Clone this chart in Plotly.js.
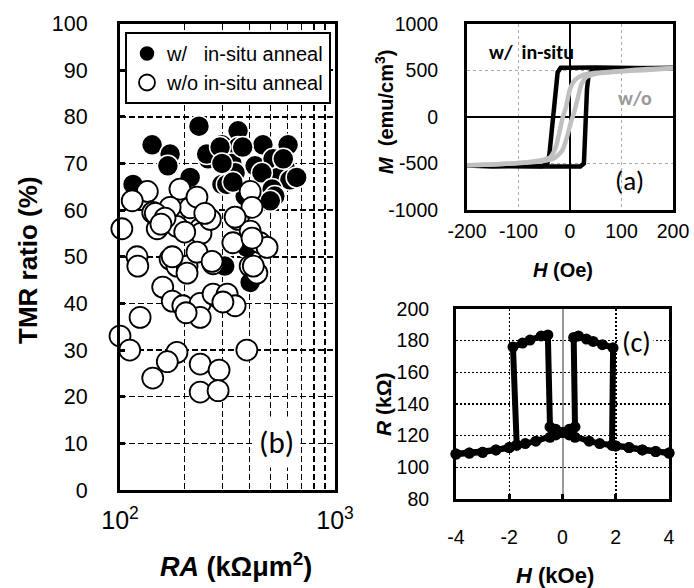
<!DOCTYPE html>
<html><head><meta charset="utf-8">
<script src="https://cdn.plot.ly/plotly-3.0.1.min.js"></script>
<style>html,body{margin:0;padding:0;background:#fff}#chart{width:694px;height:588px}</style>
</head><body><div id="chart"></div>
<script>
// ---- panel (b): TMR ratio vs RA ----
const raWith  = [115,141,233,171,167,212,298,257,298,354,354,462,605,331,425,515,587,343,543,617,457,510,525,314,382,372,253,335,500,307,403,389,283,575,663,292,298];
const tmrWith = [65.5,74,78,72,69.5,67,74,71,65.5,77,73.5,74,74,70,69.5,71,69,68,67,66.5,68,64.5,63,65.5,63,73.5,72,66,62,48,44.5,52,41,71,67,73.5,70];
const raWithout  = [102,120,121,149,166,142,184,212,236,238,263,354,403,335,448,483,403,433,171,184,205,228,205,271,158,175,196,236,236,271,315,343,124,100,111,184,166,142,236,289,389,236,286,134,114,190,228,171,146,162,248,403,411,343,175,268,301,203,417,411,200,155];
const tmrWithout = [56,50,48,56,58,59.5,56.5,60.5,56,55,58,58,55.5,53,53,52,48,46.5,49.5,48,48,51,46.5,48.5,43.5,40.5,39.5,40,37,42,42,39.5,37,33,30,29.5,27.5,24,27,25.7,30,21,21.3,64,62,64.5,62.8,60.6,59.3,58.3,59.3,64,60.6,58.5,50,49,40.3,38,48,54,55.3,57];
const raTickVals = [100,1000];
const raTickText = ['10<sup>2</sup>','10<sup>3</sup>'];
const raMinorVals = [200,300,400,500,600,700,800,900];
const legendNames = ['w/\u00a0\u00a0\u00a0in-situ anneal','w/o in-situ anneal'];

// ---- panel (a): M-H loops (Oe, emu/cm3) ----
const hBlackDown = [200,150,100,50,0,-18,-24,-32,-40,-44,-55,-100,-150,-200];
const mBlackDown = [522,528,526,532,530,530,480,0,-400,-500,-530,-528,-532,-522];
const hBlackUp   = [-200,-150,-100,-50,0,20,27,30,33,36,45,100,150,200];
const mBlackUp   = [-522,-530,-526,-532,-530,-532,-500,0,300,450,510,522,528,530];
const hGrayDown  = [200,150,100,50,25,10,0,-8,-14,-20,-28,-38,-55,-100,-150,-200];
const mGrayDown  = [525,515,495,475,450,400,300,100,0,-150,-330,-430,-465,-495,-510,-520];
const hGrayUp    = [-200,-150,-100,-55,-30,-15,-5,2,8,15,22,32,50,100,150,200];
const mGrayUp    = [-520,-510,-495,-475,-440,-360,-200,-50,50,200,350,430,465,490,505,525];
const hTickVals = [-200,-100,0,100,200];
const hTickText = ['-200','-100','0','100','200'];
const mTickVals = [-1000,-500,0,500,1000];
const mTickText = ['-1000','-500','0','500','1000'];

// ---- panel (c): R-H loop (kOe, kOhm) ----
const hUp   = [-4,-3.5,-3,-2.5,-2,-1.72,-1.4,-1,-0.47,-0.25,0,0.25,0.47,0.42,0.6,0.9,1.15,1.5,1.9,1.86,2,2.5,3,3.5,4];
const rUp   = [108.4,109,109.5,111,112.5,114,115,116.5,119,120.5,122,124,125.5,182,183,181,179.5,177.5,175.5,114,113.5,112.5,111,110,109];
const hDown = [4,3.5,3,2.5,2,1.86,1.4,1,0.47,0.25,0,-0.25,-0.47,-0.55,-0.8,-1.22,-1.5,-1.86,-1.72,-2,-2.5,-3,-3.5,-4];
const rDown = [109,110,111,112.5,113.5,114,115,116.5,119,120.5,122,124,125.5,183.6,183,180.4,178.5,176,114,112.5,111,109.5,109,108.4];
const kTickVals = [-4,-2,0,2,4];
const kTickText = ['-4','-2','0','2','4'];

const F = 'Liberation Sans, Arial, sans-serif';
const C = 'Carlito, Lato, sans-serif';
const W = 694, H = 588;
const px = v => v / W, py = v => 1 - v / H;

const traces = [
  {x: raWith, y: tmrWith, type:'scatter', mode:'markers', name: legendNames[0], xaxis:'x', yaxis:'y', cliponaxis:false,
   marker:{size:21, color:'black', line:{color:'white', width:1.5}}},
  {x: raWithout, y: tmrWithout, type:'scatter', mode:'markers', name: legendNames[1], xaxis:'x', yaxis:'y', cliponaxis:false,
   marker:{size:21, color:'white', line:{color:'black', width:1.8}}},
  {x: hBlackDown, y: mBlackDown, type:'scatter', mode:'lines', xaxis:'x2', yaxis:'y2', showlegend:false, line:{color:'black', width:4.5}},
  {x: hBlackUp, y: mBlackUp, type:'scatter', mode:'lines', xaxis:'x2', yaxis:'y2', showlegend:false, line:{color:'black', width:4.5}},
  {x: hGrayDown, y: mGrayDown, type:'scatter', mode:'lines', xaxis:'x2', yaxis:'y2', showlegend:false, line:{color:'#c0c0c0', width:4.5, shape:'spline', smoothing:0.6}},
  {x: hGrayUp, y: mGrayUp, type:'scatter', mode:'lines', xaxis:'x2', yaxis:'y2', showlegend:false, line:{color:'#c0c0c0', width:4.5, shape:'spline', smoothing:0.6}},
  {x: hUp, y: rUp, type:'scatter', mode:'lines+markers', xaxis:'x3', yaxis:'y3', showlegend:false, cliponaxis:false,
   line:{color:'black', width:6}, marker:{color:'black', size:11}},
  {x: hDown, y: rDown, type:'scatter', mode:'lines+markers', xaxis:'x3', yaxis:'y3', showlegend:false, cliponaxis:false,
   line:{color:'black', width:6}, marker:{color:'black', size:11}}
];

const frame = {showline:true, linecolor:'black', linewidth:3, mirror:true, fixedrange:true};
const ann = (text, x, y, size, extra) => Object.assign({
  text, x: px(x), y: py(y), xref:'paper', yref:'paper', showarrow:false,
  xanchor:'center', yanchor:'middle', font:{family:F, size, color:'black'}}, extra || {});

const layout = {
  width: W, height: H, margin:{l:0, r:0, t:0, b:0},
  paper_bgcolor:'white', plot_bgcolor:'white', hovermode:false,
  legend:{x: px(125), y: py(32), xanchor:'left', yanchor:'top', bgcolor:'white',
          bordercolor:'black', borderwidth:2, font:{family:F, size:20, color:'black'}},
  // (b)
  xaxis: Object.assign({}, frame, {domain:[px(120), px(335)], anchor:'y', type:'log', range:[2,3],
    tickmode:'array', tickvals: raTickVals, ticktext: raTickText, ticks:'',
    showgrid:true, gridcolor:'black', gridwidth:1.5, griddash:'6px,3px', zeroline:false,
    minor:{tickmode:'array', tickvals: raMinorVals, ticks:'', showgrid:true, gridcolor:'black', gridwidth:1.5, griddash:'6px,3px'},
    tickfont:{family:F, size:25, color:'black'}, ticklabelstandoff:6}),
  yaxis: Object.assign({}, frame, {domain:[py(490), py(23.5)], anchor:'x', range:[0,100], dtick:10,
    ticks:'inside', ticklen:5, tickwidth:3, tickcolor:'black',
    showgrid:true, gridcolor:'black', gridwidth:1.5, griddash:'6px,3px', zeroline:false,
    tickfont:{family:F, size:21.5, color:'black'}, ticklabelstandoff:25}),
  // (a)
  xaxis2: Object.assign({}, frame, {domain:[px(467), px(673)], anchor:'y2', range:[-200,200],
    tickmode:'array', tickvals: hTickVals, ticktext: hTickText, ticks:'',
    showgrid:true, gridcolor:'#aaaaaa', gridwidth:1, griddash:'dot',
    zeroline:true, zerolinecolor:'black', zerolinewidth:2.5,
    tickfont:{family:F, size:19.5, color:'black'}, ticklabelstandoff:2}),
  yaxis2: Object.assign({}, frame, {domain:[py(210), py(24)], anchor:'x2', range:[-1000,1000],
    tickmode:'array', tickvals: mTickVals, ticktext: mTickText, ticks:'',
    showgrid:true, gridcolor:'#aaaaaa', gridwidth:1, griddash:'dot',
    zeroline:true, zerolinecolor:'black', zerolinewidth:2.5,
    tickfont:{family:F, size:19.5, color:'black'}, ticklabelstandoff:22}),
  // (c)
  xaxis3: Object.assign({}, frame, {domain:[px(456), px(669)], anchor:'y3', range:[-4,4],
    tickmode:'array', tickvals: kTickVals, ticktext: kTickText,
    ticks:'inside', ticklen:5, tickwidth:3, tickcolor:'black',
    showgrid:true, gridcolor:'black', gridwidth:1.5, griddash:'2px,2px',
    zeroline:true, zerolinecolor:'#999999', zerolinewidth:2,
    tickfont:{family:F, size:19.5, color:'black'}, ticklabelstandoff:19}),
  yaxis3: Object.assign({}, frame, {domain:[py(499), py(309)], anchor:'x3', range:[80,200], dtick:20, ticks:'',
    showgrid:true, gridcolor:'black', gridwidth:1.5, griddash:'2px,2px', zeroline:false,
    tickfont:{family:F, size:19.5, color:'black'}, ticklabelstandoff:20}),
  annotations: [
    ann('<b>TMR ratio (%)</b>', 28, 260, 26, {textangle:-90}),
    ann('<b><i>RA</i> (kΩμm<sup>2</sup>)</b>', 236, 565, 27),
    ann('<b><i>M</i>  (emu/cm<sup>3</sup>)</b>', 384, 112, 20, {textangle:-90}),
    ann('<b><i>H</i> (Oe)</b>', 563, 270, 20),
    ann('<b><i>R</i> (kΩ)</b>', 383, 404, 21, {textangle:-90}),
    ann('<b><i>H</i> (kOe)</b>', 555, 575, 22),
    ann('<b>w/  in-situ</b>', 531, 52, 20, {font:{family:C, size:20, color:'black'}}),
    ann('<b>w/o</b>', 635, 98, 20, {font:{family:C, size:20, color:'#999999'}}),
    ann('(a)', 629, 180, 27, {font:{family:C, size:27, color:'black'}}),
    ann('(b)', 276, 442, 31, {font:{family:C, size:31, color:'black'}, bgcolor:'white', borderpad:6}),
    ann('(c)', 636, 342, 28, {font:{family:C, size:28, color:'black'}, bgcolor:'white', borderpad:2})
  ]
};

Plotly.newPlot('chart', traces, layout, {staticPlot:true, displayModeBar:false});
</script>
</body></html>
